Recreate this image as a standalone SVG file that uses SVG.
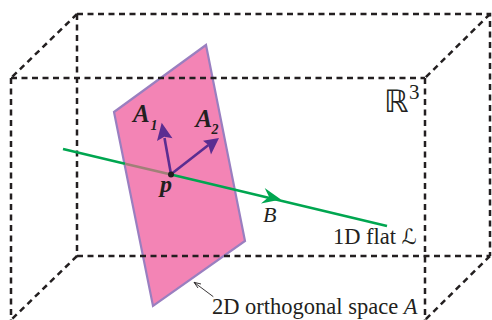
<svg xmlns="http://www.w3.org/2000/svg" width="492" height="320" viewBox="0 0 492 320">
<style>
.d{fill:none;stroke:#231f20;stroke-width:2.500;stroke-dasharray:6 4.500}
.t{font-family:"Liberation Serif",serif;fill:#231f20}
.b{font-weight:bold;font-style:italic}
.v{fill:none;stroke:#5b2d91;stroke-width:2.600}
</style>
<rect width="492" height="320" fill="#fff"/>
<g id="box-back">
<path class="d" d="M77 14H490V256"/>
<path class="d" d="M77 14V256"/>
<path class="d" d="M77 14L11 78"/>
<path class="d" d="M490 14L425 78"/>
<path class="d" d="M11 78V320"/>
<path class="d" d="M425 78V320"/>
</g>
<g id="plane">
<polygon points="114,112 206,45 245,241 153,306" fill="#f384b5" stroke="#9a7fc0" stroke-width="2.200"/>
</g>
<g id="box-front">
<path class="d" d="M11 78H425"/>
<path class="d" d="M77 256H490"/>
<path class="d" d="M490 256L425 320"/>
<path class="d" d="M77 256L11 320"/>
</g>
<g id="connectors">
<path d="M63 149L125 163.700" fill="none" stroke="#00a650" stroke-width="2.600"/>
<path d="M125 163.700L171 174.600" fill="none" stroke="#a08078" stroke-width="2.600"/>
<path d="M171 174.600L387 226" fill="none" stroke="#00a650" stroke-width="2.600"/>
<polygon points="281,199.500 261,203.500 269,196.700 264.700,188" fill="#00a650"/>
<path class="v" d="M171 174.300L164.500 138"/>
<polygon points="161.700,122.700 172.500,138.300 164.300,136.700 157,141" fill="#5b2d91"/>
<path class="v" d="M171 174.300L208.500 145"/>
<polygon points="219,138 211,154.500 208.300,145 203,140.700" fill="#5b2d91"/>
<path d="M213.300 296.700L194 282.300" fill="none" stroke="#231f20" stroke-width="0.900"/>
<path d="M194 282.300L201 284M194 282.300L198 288" fill="none" stroke="#231f20" stroke-width="0.900"/>
</g>
<g id="point-p"><circle cx="171" cy="174.500" r="3" fill="#231f20"/>
<text class="t b" x="160" y="192" font-size="24">p</text></g>
<g id="label-a1"><text class="t b" x="133" y="122" font-size="25">A</text><text class="t b" x="150.500" y="130" font-size="14">1</text></g>
<g id="label-a2"><text class="t b" x="195.500" y="127" font-size="25">A</text><text class="t b" x="211.500" y="134" font-size="14">2</text></g>
<g id="label-b"><text class="t" font-style="italic" x="263" y="222" font-size="22">B</text></g>
<g id="label-flat"><text class="t" x="333" y="244" font-size="22.500">1D flat <tspan font-family="DejaVu Sans,sans-serif" font-size="21" font-style="italic">ℒ</tspan></text></g>
<g id="label-space"><text class="t" x="212" y="314" font-size="22.500">2D orthogonal space <tspan font-style="italic">A</tspan></text></g>
<g id="label-r3"><text x="384" y="112" font-family="DejaVu Sans,sans-serif" font-size="31" fill="#231f20">ℝ</text><text class="t" x="409" y="99" font-size="21">3</text></g>
</svg>
